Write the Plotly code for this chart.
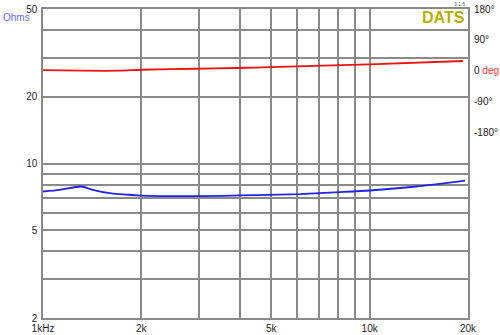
import math
import plotly.graph_objects as go

# Impedance magnitude (Ohms)
imp_freq = [1000, 1125, 1311, 1420, 1600, 2000, 2620, 3550, 4540, 6110, 8100, 10000, 13900, 19600]
imp_ohms = [7.47, 7.60, 7.87, 7.60, 7.34, 7.16, 7.12, 7.14, 7.20, 7.27, 7.42, 7.55, 7.87, 8.37]

# Phase (degrees)
ph_freq = [1000, 1320, 1720, 2000, 2950, 3910, 4440, 10000, 19300]
ph_deg = [2.0, 0.3, 0.3, 3.0, 6.0, 8.2, 9.5, 19.0, 28.5]

x_grid = [1000, 2000, 3000, 4000, 5000, 6000, 7000, 8000, 9000, 10000, 20000]
x_text = ["1kHz", "2k", "", "", "5k", "", "", "", "", "10k", "20k"]
y_grid = [2, 3, 4, 5, 6, 7, 8, 9, 10, 20, 30, 40, 50]
y_text = ["2", "", "", "5", "", "", "", "", "10", "20", "", "", "50"]
ph_ticks = [180, 90, 0, -90, -180]
ph_text = ["180°", "90°", "0 <span style='color:#ff3333'>deg</span>", "-90°", "-180°"]

fig = go.Figure()
fig.add_trace(go.Scatter(x=imp_freq, y=imp_ohms, mode="lines", line=dict(color="#2222ee", width=1.8, shape="spline", smoothing=0.6), yaxis="y"))
fig.add_trace(go.Scatter(x=ph_freq, y=ph_deg, mode="lines", line=dict(color="#ee1111", width=1.8, shape="spline", smoothing=0.6), yaxis="y2"))

grid_col = "#8a8a8a"
fig.update_layout(
    width=500, height=335,
    margin=dict(l=43, r=32, t=9, b=17, autoexpand=False),
    paper_bgcolor="white", plot_bgcolor="white",
    showlegend=False,
    font=dict(family="Liberation Sans, Arial", size=10, color="#222"),
    xaxis=dict(type="log", range=[math.log10(1000), math.log10(20000)], automargin=False,
               tickvals=x_grid, ticktext=x_text, showgrid=True, gridcolor=grid_col, gridwidth=1.5,
               showline=True, linecolor=grid_col, linewidth=1.5, mirror=True, ticks="", zeroline=False,
               ticklabelstandoff=0),
    yaxis=dict(type="log", range=[math.log10(2), math.log10(50)], automargin=False,
               tickvals=y_grid, ticktext=y_text, showgrid=True, gridcolor=grid_col, gridwidth=1.5,
               showline=True, linecolor=grid_col, linewidth=1.5, mirror=True, ticks="", zeroline=False,
               ticklabelstandoff=2),
    yaxis2=dict(overlaying="y", side="right", range=[-720, 180], tickvals=ph_ticks, ticktext=ph_text,
                automargin=False,
                showgrid=False, zeroline=False, showline=False, ticks="", ticklabelstandoff=5),
    annotations=[
        dict(text="Ohms", xref="paper", yref="paper", x=-0.099, y=0.974, xanchor="left", yanchor="middle",
             showarrow=False, font=dict(size=10, color="#6666ff")),
        dict(text="<b>DATS</b>", xref="paper", yref="paper", x=0.998, y=0.972, xanchor="right", yanchor="middle",
             showarrow=False, font=dict(size=16, color="#b3b000")),
        dict(text="3.1.6", xref="paper", yref="paper", x=0.998, y=1.0, xanchor="right", yanchor="bottom",
             showarrow=False, font=dict(size=5, color="#555")),
    ],
)
fig.write_html("out.html")
